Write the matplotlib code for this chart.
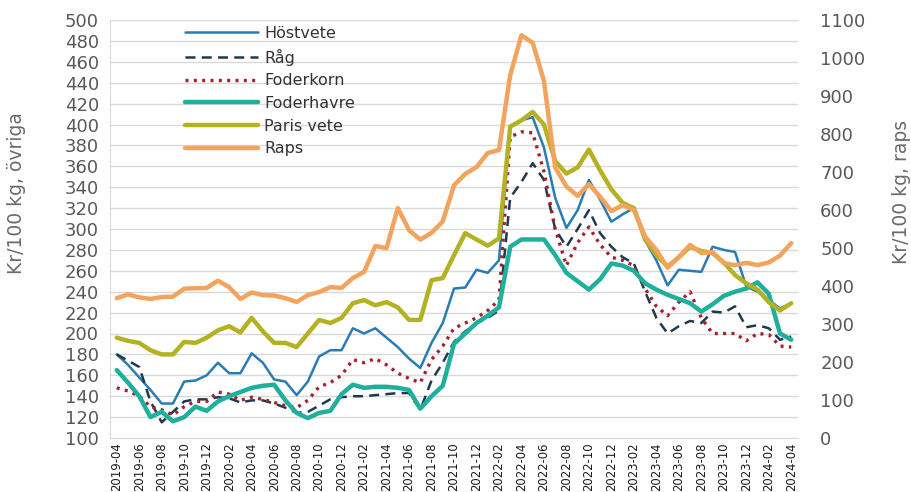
import matplotlib
matplotlib.use('Agg')
import matplotlib.pyplot as plt
from matplotlib import font_manager
import pandas as pd

months = [p.strftime('%Y-%m') for p in pd.period_range('2019-04', '2024-04', freq='M')]

hostvete = [180, 170, 158, 146, 133, 133, 154, 155, 160, 172,
            162, 162, 181, 172, 156, 154, 141, 154, 178, 184,
            184, 205, 200, 205, 196, 187, 176, 167, 191, 210,
            243, 244, 261, 258, 270, 398, 404, 407, 378, 330,
            301, 318, 347, 328, 307, 314, 320, 289, 270, 246,
            261, 260, 259, 283, 280, 278, 245, 240, 232, 224, 229]
rag = [180, 174, 168, 135, 115, 125, 135, 137, 137, 139,
       138, 134, 136, 136, 133, 129, 124, 125, 131, 137,
       139, 140, 140, 141, 142, 143, 143, 127, 155, 172,
       192, 202, 210, 215, 222, 330, 345, 363, 347, 300,
       283, 300, 318, 296, 283, 273, 267, 240, 215, 200,
       207, 212, 210, 221, 220, 226, 206, 208, 205, 194, 197]
foderkorn = [148, 145, 140, 130, 127, 122, 130, 135, 135, 144,
             142, 136, 139, 137, 134, 131, 129, 136, 149, 153,
             160, 175, 172, 176, 170, 162, 157, 153, 175, 188,
             205, 210, 215, 222, 232, 388, 393, 392, 355, 300,
             265, 287, 302, 285, 273, 270, 265, 243, 226, 217,
             230, 240, 215, 200, 200, 200, 193, 200, 199, 188, 187]
foderhavre = [165, 153, 140, 120, 125, 116, 120, 130, 126, 135,
              140, 144, 148, 150, 151, 136, 124, 119, 124, 126,
              142, 151, 148, 149, 149, 148, 146, 128, 140, 150,
              190, 200, 210, 217, 225, 283, 290, 290, 290, 275,
              258, 250, 242, 252, 267, 265, 260, 248, 242, 237,
              233, 229, 221, 228, 236, 240, 243, 249, 238, 200, 194]
paris_vete = [196, 193, 191, 184, 180, 180, 192, 191, 196, 203,
              207, 201, 215, 202, 191, 191, 187, 200, 213, 210,
              215, 229, 232, 227, 230, 225, 213, 213, 251, 253,
              275, 296, 290, 284, 291, 398, 404, 412, 400, 365,
              353, 359, 376, 356, 338, 325, 320, 290, 275, 264,
              273, 283, 279, 277, 268, 256, 248, 242, 230, 222, 229]
raps = [368, 378, 370, 366, 371, 372, 393, 394, 395, 414,
        397, 366, 383, 376, 375, 368, 358, 376, 384, 397,
        395, 421, 437, 505, 500, 605, 547, 522, 540, 570,
        665, 695, 713, 750, 758, 955, 1060, 1040, 940, 712,
        662, 637, 668, 635, 597, 613, 600, 530, 495, 448,
        476, 508, 487, 489, 460, 455, 461, 455, 462, 480, 513]

series_left = [
    ('Höstvete', hostvete, dict(color='#2b7bb5', lw=1.8, ls='-')),
    ('Råg', rag, dict(color='#1e3a4c', lw=1.8, ls=(0, (4, 2.5)))),
    ('Foderkorn', foderkorn, dict(color='#a3202f', lw=2.4, ls=(0, (0.9, 1.6)))),
    ('Foderhavre', foderhavre, dict(color='#1faf9d', lw=3.2, ls='-')),
    ('Paris vete', paris_vete, dict(color='#b4b223', lw=3.2, ls='-')),
]

names = {f.name for f in font_manager.fontManager.ttflist}
narrow = 'Liberation Sans Narrow' in names

fig = plt.figure(figsize=(9.12, 4.92), dpi=100)
ax = fig.add_axes([110/912, 1-438/492, 688/912, 418/492])
x = list(range(len(months)))
handles = []
for name, vals, st in series_left:
    h, = ax.plot(x, vals, label=name, solid_capstyle='round', **st)
    handles.append(h)

ax2 = ax.twinx()
h, = ax2.plot(x, raps, color='#f2a35c', lw=3.2, label='Raps', solid_capstyle='round')
handles.append(h)

ax.set_xlim(-0.6, 60.6)
ax.set_ylim(100, 500)
ax.set_yticks(range(100, 501, 20))
ax2.set_ylim(0, 1100)
ax2.set_yticks(range(0, 1101, 100))

ax.yaxis.grid(True, color='#d9d9d9', lw=1)
ax.set_axisbelow(True)
for s in ['top', 'right']:
    ax.spines[s].set_visible(False)
for s in ['left', 'bottom']:
    ax.spines[s].set_color('#d9d9d9')
for s in ax2.spines.values():
    s.set_visible(False)

ax.tick_params(axis='y', length=0, pad=8, labelsize=13, labelcolor='#595959')
ax2.tick_params(axis='y', length=0, pad=16, labelsize=13, labelcolor='#595959')

ax.set_xticks(x[::2])
if narrow:
    ax.set_xticklabels(months[::2], rotation=90, fontsize=10, family='Liberation Sans Narrow')
else:
    ax.set_xticklabels(months[::2], rotation=90, fontsize=8.4)
ax.tick_params(axis='x', length=0, pad=3, labelcolor='#1a1a1a')

fig.text(17/912, 1-193/492, 'Kr/100 kg, övriga', rotation=90, ha='center', va='center',
         fontsize=13.5, color='#6a6a6a')
fig.text(902/912, 1-192/492, 'Kr/100 kg, raps', rotation=90, ha='center', va='center',
         fontsize=13.5, color='#6a6a6a')

ax2.legend(handles, [hh.get_label() for hh in handles], loc='upper left',
           bbox_to_anchor=(185/912, 1-26/492), bbox_transform=fig.transFigure,
           frameon=False, fontsize=11.5, handlelength=4.6, handletextpad=0.35,
           labelspacing=0.48, borderpad=0, borderaxespad=0, labelcolor='#333333')

fig.savefig('out.png', dpi=100)
